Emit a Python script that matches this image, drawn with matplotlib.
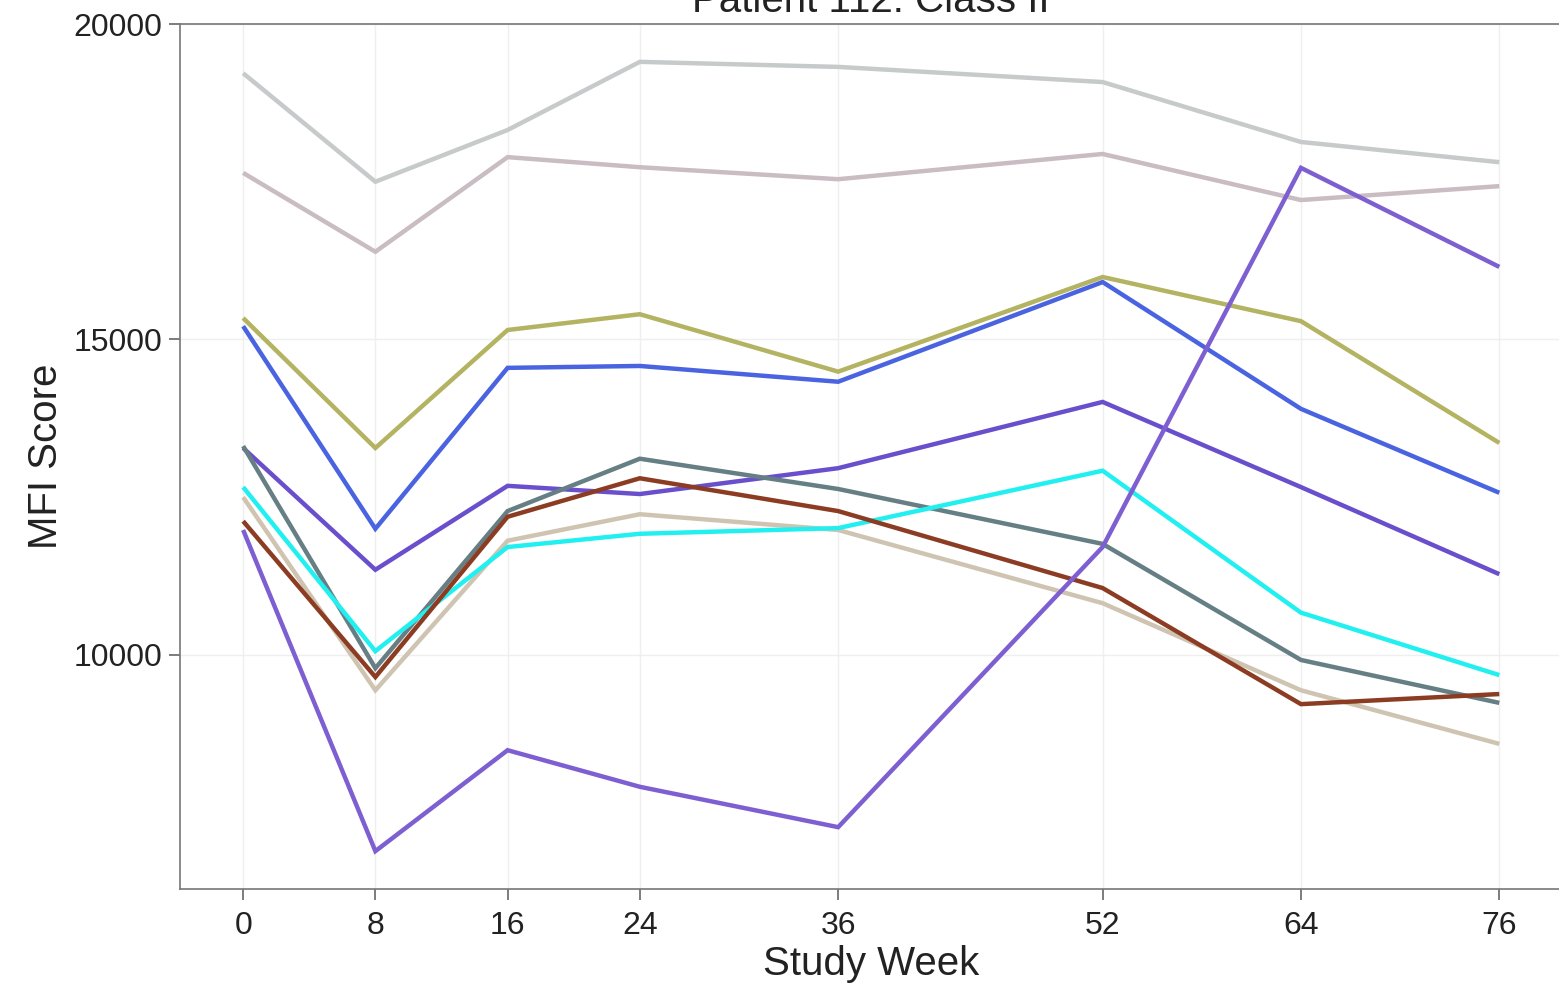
import matplotlib
matplotlib.use("Agg")
import matplotlib.pyplot as plt

weeks = [0, 8, 16, 24, 36, 52, 64, 76]

series_gray_top = [19220, 17500, 18320, 19400, 19320, 19080, 18130, 17810]
series_gray_pink = [17640, 16390, 17890, 17730, 17540, 17940, 17210, 17430]
series_purple = [11980, 6890, 8490, 7910, 7270, 11710, 17720, 16150]
series_olive = [15340, 13280, 15150, 15400, 14490, 15990, 15290, 13360]
series_blue = [15210, 12000, 14550, 14580, 14330, 15910, 13900, 12570]
series_indigo = [13280, 11350, 12680, 12550, 12960, 14010, 12660, 11280]
series_slate = [13310, 9790, 12280, 13110, 12630, 11760, 9920, 9240]
series_cyan = [12660, 10060, 11710, 11920, 12010, 12920, 10670, 9680]
series_tan = [12500, 9440, 11810, 12230, 11980, 10820, 9440, 8590]
series_brown = [12120, 9650, 12190, 12800, 12280, 11060, 9220, 9380]

all_series = [series_gray_top, series_gray_pink, series_olive, series_blue,
              series_indigo, series_tan, series_slate, series_cyan,
              series_brown, series_purple]
colors = ["#c6caca", "#c9bcc2", "#b3b362", "#4a63e0",
          "#6a4fcd", "#cfc4b2", "#657f84", "#22f0f0",
          "#8b3c22", "#7e5fd2"]

ytick_vals = [10000, 15000, 20000]

plt.rcParams['font.family'] = ['Liberation Sans', 'DejaVu Sans']

fig = plt.figure(figsize=(15.59, 9.83), dpi=100)
ax = fig.add_axes([180/1559, 1-889/983, 1 - 180/1559 + 0.002, (889-24)/983])

for s, c in zip(all_series, colors):
    ax.plot(weeks, s, color=c, lw=3.2, solid_joinstyle='miter', solid_capstyle='butt')

ax.set_xlim(-3.82, 79.8)
ax.set_ylim(6290, 20000)
ax.set_xticks(weeks)
ax.set_xticklabels([str(w) for w in weeks])
ax.set_yticks(ytick_vals)
ax.set_yticklabels([str(v) for v in ytick_vals])

ax.grid(True, color="#efefef", lw=1.0)
ax.set_axisbelow(True)

for side in ['left', 'bottom', 'top']:
    ax.spines[side].set_color('#777777')
    ax.spines[side].set_linewidth(1.2)
ax.spines['right'].set_visible(False)

ax.tick_params(axis='both', which='major', length=8, width=1.2, color='#666666',
               labelsize=23, labelcolor='#222222')
ax.tick_params(axis='x', pad=8)
ax.tick_params(axis='y', pad=5)

ax.set_xlabel("Study Week", fontsize=29, labelpad=3, color='#222222')
ax.set_ylabel("MFI Score", fontsize=29, labelpad=6, color='#222222')
ax.set_title("Patient 112: Class II", fontsize=29, pad=9, color='#222222')

fig.savefig("out.png", dpi=100)
